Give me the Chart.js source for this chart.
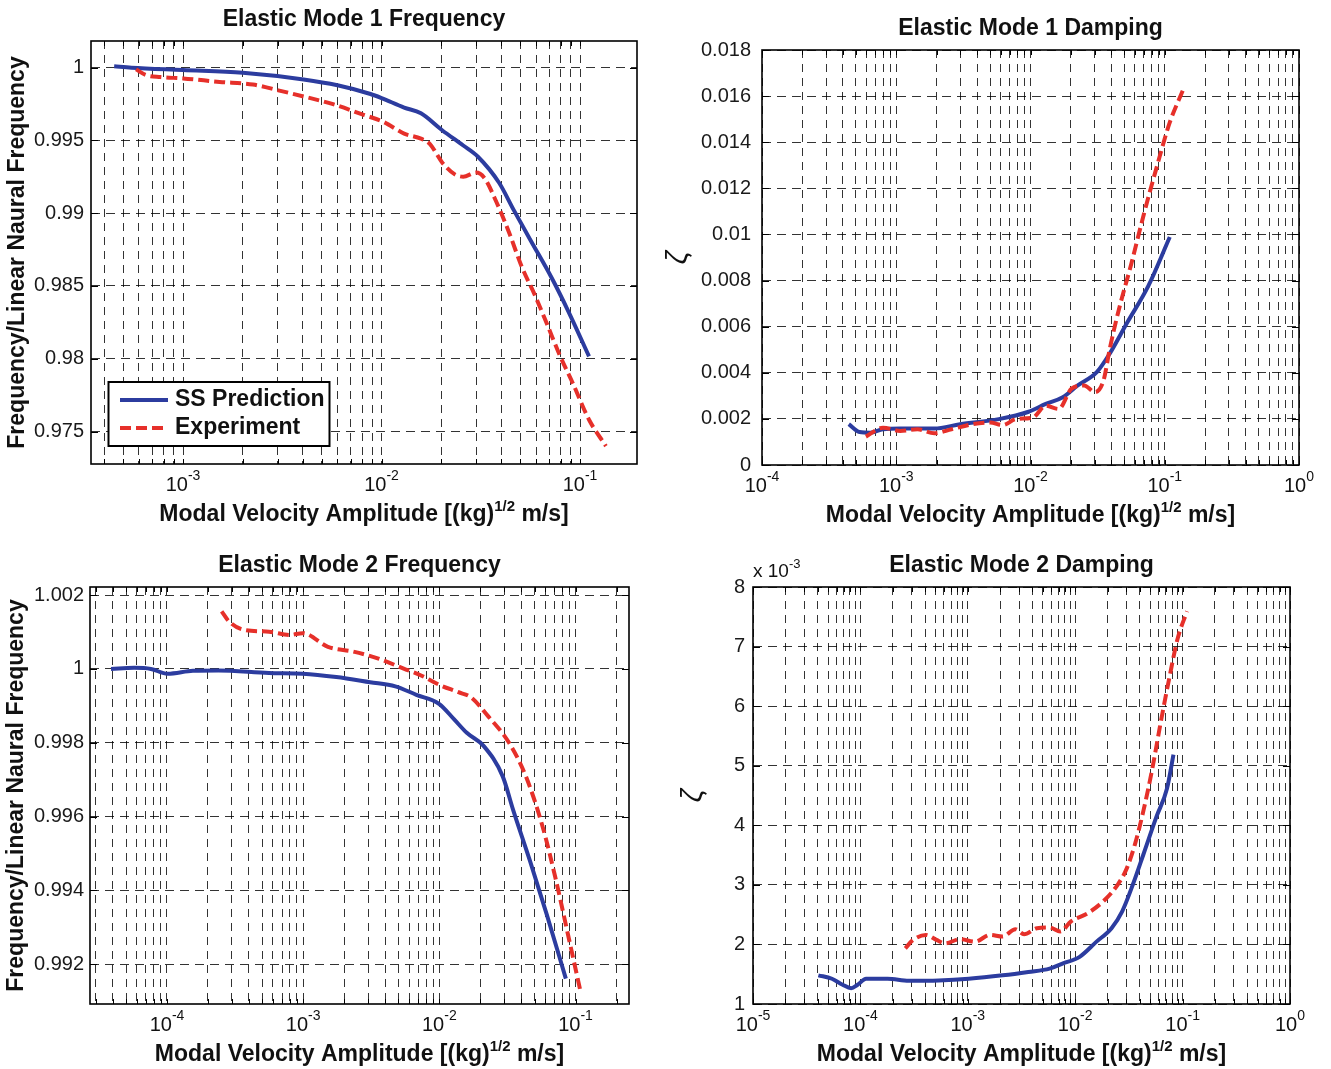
<!DOCTYPE html>
<html>
<head>
<meta charset="utf-8">
<title>Elastic mode frequency and damping</title>
<script src="https://cdn.jsdelivr.net/npm/chart.js@4.4.1/dist/chart.umd.min.js"></script>
<style>
  html, body { margin: 0; padding: 0; background: #fff; }
  #page { position: relative; width: 1331px; height: 1069px; overflow: hidden; }
  #page canvas { position: absolute; }
</style>
</head>
<body>
<div id="page">
  <canvas id="m1Freq" width="660" height="535" style="left:0px;top:0px"></canvas>
  <canvas id="m1Damp" width="671" height="535" style="left:660px;top:0px"></canvas>
  <canvas id="m2Freq" width="660" height="534" style="left:0px;top:535px"></canvas>
  <canvas id="m2Damp" width="671" height="534" style="left:660px;top:535px"></canvas>
</div>
<script>
// ---- data ----

// Elastic Mode 1 Frequency
const m1FreqSSx = [4.5e-4, 5.5e-4, 1.0e-3, 2.0e-3, 4.05e-3, 6.0e-3, 8.8e-3, 1.0e-2, 1.3e-2, 1.58e-2, 2.02e-2, 2.58e-2, 3.06e-2, 3.91e-2, 4.63e-2, 5.63e-2, 7.18e-2, 8.73e-2, 0.111];
const m1FreqSSy = [1.0001, 1.0, 0.99984, 0.99965, 0.99919, 0.99879, 0.99819, 0.99791, 0.99726, 0.99686, 0.9957, 0.99465, 0.99388, 0.99209, 0.99023, 0.98814, 0.98558, 0.98326, 0.98016];
const m1FreqExpX = [5.8e-4, 6.5e-4, 7.7e-4, 1.0e-3, 1.53e-3, 2.25e-3, 3.02e-3, 4.05e-3, 5.7e-3, 8.0e-3, 1.02e-2, 1.3e-2, 1.58e-2, 1.75e-2, 2.02e-2, 2.34e-2, 2.58e-2, 2.99e-2, 3.29e-2, 3.81e-2, 4.41e-2, 5.1e-2, 5.9e-2, 6.84e-2, 7.91e-2, 9.16e-2, 0.111, 0.135];
const m1FreqExpY = [0.99988, 0.99949, 0.99935, 0.99926, 0.99902, 0.99884, 0.99844, 0.99802, 0.99749, 0.99679, 0.99628, 0.99547, 0.99512, 0.99477, 0.99349, 0.99267, 0.99251, 0.99279, 0.99244, 0.9907, 0.9886, 0.98628, 0.98442, 0.98233, 0.98023, 0.97837, 0.97581, 0.974];

// Elastic Mode 1 Damping
const m1DampSSx = [4.43e-4, 5.33e-4, 6.4e-4, 7.97e-4, 1.07e-3, 1.92e-3, 2.99e-3, 5.8e-3, 9.68e-3, 1.3e-2, 1.74e-2, 2.25e-2, 3.13e-2, 3.9e-2, 5.23e-2, 7.55e-2, 0.109];
const m1DampSSy = [0.00177, 0.00143, 0.0014, 0.00155, 0.00158, 0.00158, 0.00177, 0.00199, 0.00231, 0.00265, 0.00294, 0.00345, 0.00404, 0.00484, 0.00616, 0.00777, 0.00989];
const m1DampExpX = [5.94e-4, 7.97e-4, 1.07e-3, 1.44e-3, 1.92e-3, 2.58e-3, 3.72e-3, 5.0e-3, 6.23e-3, 7.76e-3, 1.04e-2, 1.3e-2, 1.62e-2, 2.02e-2, 2.51e-2, 3.02e-2, 3.5e-2, 3.9e-2, 4.52e-2, 5.63e-2, 7.01e-2, 8.75e-2, 0.109, 0.1377];
const m1DampExpY = [0.00123, 0.00162, 0.00148, 0.00155, 0.00138, 0.00155, 0.00177, 0.00184, 0.00173, 0.00199, 0.00206, 0.00257, 0.00243, 0.00331, 0.00345, 0.00316, 0.00367, 0.00506, 0.00667, 0.00872, 0.01091, 0.01296, 0.01486, 0.0163];

// Elastic Mode 2 Frequency
const m2FreqSSx = [3.88e-5, 5.74e-5, 7.62e-5, 1.01e-4, 1.55e-4, 2.38e-4, 5.61e-4, 9.91e-4, 1.75e-3, 3.1e-3, 4.75e-3, 6.78e-3, 1.0e-2, 1.28e-2, 1.59e-2, 2.12e-2, 2.92e-2, 3.49e-2, 4.63e-2, 6.16e-2, 8.49e-2];
const m2FreqSSy = [1.0, 1.00003, 1.0, 0.99987, 0.99995, 0.99996, 0.99989, 0.99987, 0.99978, 0.99964, 0.99953, 0.9993, 0.99905, 0.99864, 0.99827, 0.99791, 0.99709, 0.99617, 0.9948, 0.99334, 0.99161];
const m2FreqExpX = [2.52e-4, 2.85e-4, 3.66e-4, 5.61e-4, 8.0e-4, 9.91e-4, 1.52e-3, 2.33e-3, 3.57e-3, 5.47e-3, 7.28e-3, 1.0e-2, 1.38e-2, 1.71e-2, 2.27e-2, 3.25e-2, 4.32e-2, 5.74e-2, 7.11e-2, 8.81e-2, 0.109];
const m2FreqExpY = [1.00156, 1.00129, 1.00106, 1.00101, 1.00092, 1.00097, 1.0006, 1.00047, 1.00028, 1.00001, 0.99983, 0.99957, 0.99937, 0.99923, 0.99873, 0.998, 0.99709, 0.99572, 0.99435, 0.9928, 0.99125];

// Elastic Mode 2 Damping (values in units of 10^-3)
const m2DampSSx = [4.06e-5, 5.43e-5, 6.83e-5, 8.2e-5, 9.42e-5, 1.13e-4, 1.79e-4, 2.82e-4, 5.36e-4, 1.02e-3, 2.11e-3, 3.66e-3, 5.78e-3, 7.61e-3, 1.1e-2, 1.58e-2, 2.18e-2, 2.74e-2, 3.45e-2, 4.33e-2, 5.7e-2, 7.17e-2, 8.22e-2];
const m2DampSSy = [1.481, 1.424, 1.323, 1.266, 1.323, 1.424, 1.424, 1.39, 1.396, 1.424, 1.481, 1.538, 1.594, 1.679, 1.792, 2.047, 2.273, 2.556, 3.009, 3.518, 4.141, 4.622, 5.188];
const m2DampExpX = [2.62e-4, 3.09e-4, 4.07e-4, 5.12e-4, 6.15e-4, 8.47e-4, 1.17e-3, 1.61e-3, 2.11e-3, 2.78e-3, 3.34e-3, 4.4e-3, 5.78e-3, 7.27e-3, 9.14e-3, 1.32e-2, 1.9e-2, 2.5e-2, 3.0e-2, 3.61e-2, 4.33e-2, 5.2e-2, 6.25e-2, 7.5e-2, 9.01e-2, 0.11];
const m2DampExpY = [1.934, 2.075, 2.16, 2.075, 2.019, 2.087, 2.047, 2.16, 2.132, 2.256, 2.171, 2.273, 2.285, 2.217, 2.387, 2.528, 2.754, 3.009, 3.264, 3.688, 4.254, 4.933, 5.725, 6.461, 7.14, 7.593];

// tick values and labels
const m1FreqYTicks = [0.975, 0.98, 0.985, 0.99, 0.995, 1];
const m1FreqYLabels = ['0.975', '0.98', '0.985', '0.99', '0.995', '1'];
const m1DampYTicks = [0, 0.002, 0.004, 0.006, 0.008, 0.01, 0.012, 0.014, 0.016, 0.018];
const m1DampYLabels = ['0', '0.002', '0.004', '0.006', '0.008', '0.01', '0.012', '0.014', '0.016', '0.018'];
const m2FreqYTicks = [0.992, 0.994, 0.996, 0.998, 1, 1.002];
const m2FreqYLabels = ['0.992', '0.994', '0.996', '0.998', '1', '1.002'];
const m2DampYTicks = [1, 2, 3, 4, 5, 6, 7, 8];
const m2DampYLabels = ['1', '2', '3', '4', '5', '6', '7', '8'];

// decade exponents labelled on each x axis
const m1FreqXExp = [-3, -2, -1];
const m1DampXExp = [-4, -3, -2, -1, 0];
const m2FreqXExp = [-4, -3, -2, -1];
const m2DampXExp = [-5, -4, -3, -2, -1, 0];

const seriesNames = ['SS Prediction', 'Experiment'];

// ---- styling ----
const BLUE = '#2c3c9f';
const RED = '#e6302a';
const FONT = '"Liberation Sans", Arial, Helvetica, sans-serif';
Chart.defaults.font.family = FONT;
Chart.defaults.color = '#1a1a1a';

function toPoints(xs, ys) {
    return xs.map((x, i) => ({ x: x, y: ys[i] }));
}

// log grid at 1..9 x 10^k inside the range
function logGridTicks(min, max) {
    const ticks = [];
    for (let e = Math.floor(Math.log10(min)); e <= Math.ceil(Math.log10(max)); e++) {
        for (let m = 1; m < 10; m++) {
            const v = m * Math.pow(10, e);
            if (v >= min * 0.9999 && v <= max * 1.0001) ticks.push({ value: v });
        }
    }
    return ticks;
}

// draw a run of text pieces [text, font, rise], centred or left aligned
function drawRich(ctx, parts, x, y, align) {
    let total = 0;
    parts.forEach(p => { ctx.font = p[1]; total += ctx.measureText(p[0]).width; });
    let cx = align === 'center' ? x - total / 2 : x;
    ctx.textAlign = 'left';
    ctx.textBaseline = 'middle';
    parts.forEach(p => {
        ctx.font = p[1];
        ctx.fillText(p[0], cx, y - (p[2] || 0));
        cx += ctx.measureText(p[0]).width;
    });
}

// MATLAB-like frame: box, inner ticks, title, decade labels, x label, legend
const matlabFrame = {
    id: 'matlabFrame',
    afterDraw(chart, args, opts) {
        const { ctx, chartArea: a } = chart;
        const xs = chart.scales.x, ys = chart.scales.y;
        ctx.save();

        ctx.strokeStyle = '#000';
        ctx.lineWidth = 1;
        ctx.beginPath();
        xs.ticks.forEach(t => {
            const px = Math.round(xs.getPixelForValue(t.value)) + 0.5;
            ctx.moveTo(px, a.bottom); ctx.lineTo(px, a.bottom - 5);
            ctx.moveTo(px, a.top); ctx.lineTo(px, a.top + 5);
        });
        ys.ticks.forEach(t => {
            const py = Math.round(ys.getPixelForValue(t.value)) + 0.5;
            ctx.moveTo(a.left, py); ctx.lineTo(a.left + 7, py);
            ctx.moveTo(a.right, py); ctx.lineTo(a.right - 7, py);
        });
        ctx.stroke();

        ctx.lineWidth = 1.6;
        ctx.strokeRect(a.left, a.top, a.right - a.left, a.bottom - a.top);

        ctx.fillStyle = '#111';
        const midX = (a.left + a.right) / 2;
        drawRich(ctx, [[opts.title, 'bold 23px ' + FONT]], midX, a.top - 21, 'center');

        opts.decades.forEach(e => {
            const px = xs.getPixelForValue(Math.pow(10, e));
            drawRich(ctx, [['10', '20px ' + FONT], [String(e), '14px ' + FONT, 9]], px, a.bottom + 21, 'center');
        });

        drawRich(ctx, [
            ['Modal Velocity Amplitude [(kg)', 'bold 23px ' + FONT],
            ['1/2', 'bold 15px ' + FONT, 8],
            [' m/s]', 'bold 23px ' + FONT]
        ], midX, a.bottom + 51, 'center');

        if (opts.multiplier) {
            drawRich(ctx, [['x 10', '19px ' + FONT], ['-3', '13px ' + FONT, 8]], a.left, a.top - 15, 'left');
        }

        if (opts.legend) {
            const lx = a.left + 17.5, ly = a.bottom - 82, lw = 221, lh = 64;
            ctx.fillStyle = '#fff';
            ctx.fillRect(lx, ly, lw, lh);
            ctx.strokeStyle = '#000';
            ctx.lineWidth = 2;
            ctx.strokeRect(lx, ly, lw, lh);
            chart.data.datasets.forEach((ds, i) => {
                const rowY = ly + 18 + i * 28;
                ctx.strokeStyle = ds.borderColor;
                ctx.lineWidth = ds.borderWidth;
                ctx.setLineDash(ds.borderDash || []);
                ctx.beginPath();
                ctx.moveTo(a.left + 29, rowY);
                ctx.lineTo(a.left + 77, rowY);
                ctx.stroke();
                ctx.setLineDash([]);
                ctx.fillStyle = '#111';
                drawRich(ctx, [[ds.label, 'bold 23px ' + FONT]], a.left + 84, rowY, 'left');
            });
        }
        ctx.restore();
    }
};

function makePanel(p) {
    const ctx = document.getElementById(p.id).getContext('2d');
    return new Chart(ctx, {
        type: 'line',
        data: {
            datasets: [
                { label: seriesNames[0], data: toPoints(p.ssX, p.ssY), borderColor: BLUE, borderWidth: 4, pointRadius: 0, cubicInterpolationMode: 'monotone', order: 2 },
                { label: seriesNames[1], data: toPoints(p.expX, p.expY), borderColor: RED, borderWidth: 4, borderDash: [11, 5], pointRadius: 0, cubicInterpolationMode: 'monotone', order: 1 }
            ]
        },
        options: {
            responsive: false,
            animation: false,
            events: [],
            layout: { padding: p.pad },
            scales: {
                x: {
                    type: 'logarithmic',
                    min: p.xMin,
                    max: p.xMax,
                    bounds: 'data',
                    afterBuildTicks: s => { s.ticks = logGridTicks(p.xMin, p.xMax); },
                    afterFit: s => { s.height = 60; },
                    ticks: { display: false },
                    grid: { color: 'rgba(0,0,0,0.8)', lineWidth: 1, drawTicks: false },
                    border: { display: false, dash: [8, 6] }
                },
                y: {
                    type: 'linear',
                    min: p.yMin,
                    max: p.yMax,
                    bounds: 'data',
                    afterBuildTicks: s => { s.ticks = p.yTicks.map(v => ({ value: v })); },
                    afterFit: s => { s.width = p.yWidth; },
                    ticks: {
                        autoSkip: false,
                        padding: p.tickPad,
                        font: { size: 20 },
                        callback: (v, i) => p.yLabels[i]
                    },
                    grid: { color: 'rgba(0,0,0,0.8)', lineWidth: 1, drawTicks: false },
                    border: { display: false, dash: [9, 6] },
                    title: {
                        display: true,
                        text: p.yTitle,
                        font: p.yTitleFont,
                        color: '#111',
                        padding: { top: p.yTitlePad, bottom: 0 }
                    }
                }
            },
            plugins: {
                legend: { display: false },
                tooltip: { enabled: false },
                matlabFrame: { title: p.title, decades: p.decades, legend: !!p.legend, multiplier: !!p.multiplier }
            }
        },
        plugins: [matlabFrame]
    });
}

const freqTitleFont = { size: 23, weight: 'bold' };
const zetaFont = { size: 29, style: 'italic', weight: 'normal' };

makePanel({
    id: 'm1Freq', title: 'Elastic Mode 1 Frequency',
    ssX: m1FreqSSx, ssY: m1FreqSSy, expX: m1FreqExpX, expY: m1FreqExpY,
    xMin: 3.44e-4, xMax: 0.1936, yMin: 0.97277, yMax: 1.00183,
    yTicks: m1FreqYTicks, yLabels: m1FreqYLabels, decades: m1FreqXExp,
    yTitle: 'Frequency/Linear Naural Frequency', yTitleFont: freqTitleFont, yTitlePad: 4,
    pad: { left: 0, top: 41, right: 23, bottom: 11 }, yWidth: 91, tickPad: 7, legend: true
});

makePanel({
    id: 'm1Damp', title: 'Elastic Mode 1 Damping',
    ssX: m1DampSSx, ssY: m1DampSSy, expX: m1DampExpX, expY: m1DampExpY,
    xMin: 1e-4, xMax: 1, yMin: 0, yMax: 0.018,
    yTicks: m1DampYTicks, yLabels: m1DampYLabels, decades: m1DampXExp,
    yTitle: 'ζ', yTitleFont: zetaFont, yTitlePad: 2,
    pad: { left: 0, top: 50, right: 32, bottom: 10 }, yWidth: 102, tickPad: 11
});

makePanel({
    id: 'm2Freq', title: 'Elastic Mode 2 Frequency',
    ssX: m2FreqSSx, ssY: m2FreqSSy, expX: m2FreqExpX, expY: m2FreqExpY,
    xMin: 2.72e-5, xMax: 0.247, yMin: 0.990924, yMax: 1.00222,
    yTicks: m2FreqYTicks, yLabels: m2FreqYLabels, decades: m2FreqXExp,
    yTitle: 'Frequency/Linear Naural Frequency', yTitleFont: freqTitleFont, yTitlePad: 3,
    pad: { left: 0, top: 52, right: 31, bottom: 5 }, yWidth: 90, tickPad: 6
});

makePanel({
    id: 'm2Damp', title: 'Elastic Mode 2 Damping',
    ssX: m2DampSSx, ssY: m2DampSSy, expX: m2DampExpX, expY: m2DampExpY,
    xMin: 1e-5, xMax: 1, yMin: 1, yMax: 8,
    yTicks: m2DampYTicks, yLabels: m2DampYLabels, decades: m2DampXExp,
    yTitle: 'ζ', yTitleFont: zetaFont, yTitlePad: 17,
    pad: { left: 0, top: 52, right: 41, bottom: 5 }, yWidth: 93, tickPad: 8, multiplier: true
});
</script>
</body>
</html>
